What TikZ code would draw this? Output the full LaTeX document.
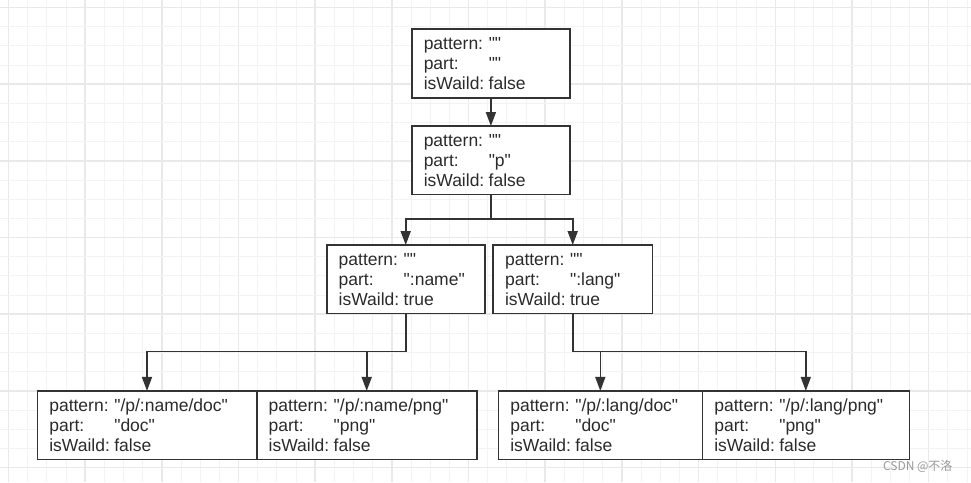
\documentclass[tikz,border=0pt]{standalone}
\usepackage{fontspec}
\setmainfont{Liberation Sans}[Ligatures=TeXOff]
\newfontfamily\cjk{Noto Sans CJK SC}
\usepackage{tikz}
\usetikzlibrary{arrows.meta,positioning}
\definecolor{linegray}{HTML}{333333}
\definecolor{textgray}{HTML}{2B2B2B}
\definecolor{minorgrid}{HTML}{F3F3F3}
\definecolor{majorgrid}{HTML}{E9E9E9}
\newcommand\routeinfo[3]{\makebox[65pt][l]{pattern:}#1\\\makebox[65pt][l]{part:}#2\\\makebox[65pt][l]{isWaild:}#3}

\begin{document}
\begin{tikzpicture}[x=1pt, y=-1pt,
    trie/.style={draw=linegray, line width=1.6pt, fill=white, align=left, text width=#1,
      inner xsep=12pt, inner ysep=0pt, minimum height=68.5pt, outer sep=0pt,
      text=textgray, font=\fontsize{17.5}{20}\selectfont},
    link/.style={draw=linegray, line width=1.6pt, -{Triangle[width=10pt,length=14pt]}}]
    % background grid
    \fill[white] (0,0) rectangle (971,482);
    \useasboundingbox (0,0) rectangle (971,482);
    \foreach \i in {0,...,50}{
      \pgfmathtruncatemacro\m{mod(\i,4)}
      \ifnum\m=0 \draw[majorgrid, line width=1.6pt] (8.5+19.17*\i,0) -- (8.5+19.17*\i,482);
      \else \draw[minorgrid, line width=1pt] (8.5+19.17*\i,0) -- (8.5+19.17*\i,482); \fi
    }
    \foreach \i in {0,...,24}{
      \pgfmathtruncatemacro\m{mod(\i,4)}
      \ifnum\m=0 \draw[majorgrid, line width=1.6pt] (0,7.5+19.17*\i) -- (971,7.5+19.17*\i);
      \else \draw[minorgrid, line width=1pt] (0,7.5+19.17*\i) -- (971,7.5+19.17*\i); \fi
    }
    % trie nodes
    \node[trie=134.3pt] (root) at (490.9,63.5) {\routeinfo{""}{""}{false}};
    \node[trie=134.3pt, below=28.3pt of root] (p) {\routeinfo{""}{"p"}{false}};
    \node[trie=134pt] (name) at (405.7,279.3) {\routeinfo{""}{":name"}{true}};
    \node[trie=135.3pt] (lang) at (572.7,279.3) {\routeinfo{""}{":lang"}{true}};
    \node[trie=195.4pt] (namedoc) at (147,425.2) {\routeinfo{"/p/:name/doc"}{"doc"}{false}};
    \node[trie=196pt, right=0pt of namedoc] (namepng) {\routeinfo{"/p/:name/png"}{"png"}{false}};
    \node[trie=180pt] (langdoc) at (600.3,425.2) {\routeinfo{"/p/:lang/doc"}{"doc"}{false}};
    \node[trie=183pt, right=0pt of langdoc] (langpng) {\routeinfo{"/p/:lang/png"}{"png"}{false}};
    % edges
    \draw[link] (root.south) -- (p.north);
    \draw[link] (p.south) -- ++(0,24.5) -| (name.north);
    \draw[link] (p.south) -- ++(0,24.5) -| (lang.north);
    \draw[link] (name.south) -- ++(0,38) -| (namedoc.north);
    \draw[link] (name.south) -- ++(0,38) -| (namepng.north);
    \draw[link] (lang.south) -- ++(0,38) -| (langdoc.north);
    \draw[link] (lang.south) -- ++(0,38) -| (langpng.north);
    % watermark
    \node[anchor=east, text=black!40, font=\cjk\fontsize{12}{12}\selectfont] (mark) at (956,466.5) {CSDN @不洛};
\end{tikzpicture}
\end{document}
